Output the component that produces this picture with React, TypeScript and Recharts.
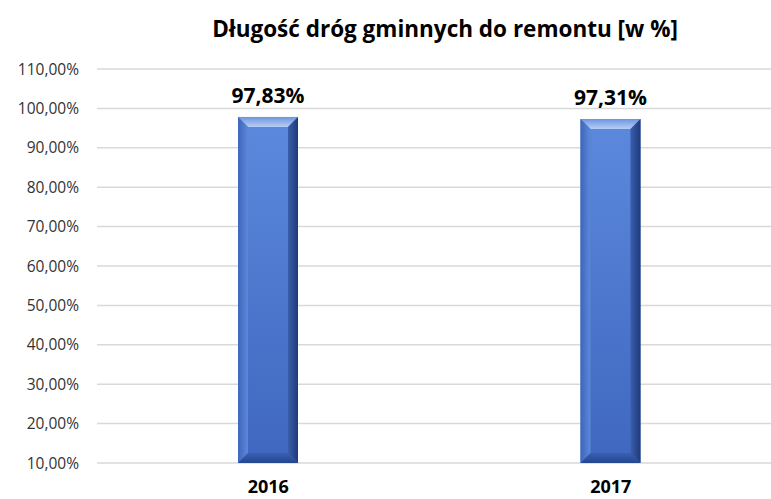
import { BarChart, Bar, XAxis, YAxis, CartesianGrid, LabelList } from "recharts";

const years = ["2016", "2017"];
const shares = [97.83, 97.31];
const yTicks = [10, 20, 30, 40, 50, 60, 70, 80, 90, 100, 110];

const data = years.map((year, i) => ({ year, value: shares[i] }));

const fmt = (v: number) => v.toFixed(2).replace(".", ",") + "%";

const FONT = "'Open Sans', 'Noto Sans', sans-serif";

function BevelBar(props: any) {
  const { x, y, width: w, height: h } = props;
  const b = 10;
  return (
    <g>
      <rect x={x} y={y} width={w} height={h} fill="#4472C4" />
      <rect x={x + b} y={y + b} width={w - 2 * b} height={h - 2 * b} fill="url(#face)" />
      <polygon
        points={`${x},${y} ${x + w},${y} ${x + w - b},${y + b} ${x + b},${y + b}`}
        fill="url(#topBevel)"
      />
      <polygon
        points={`${x},${y} ${x + b},${y + b} ${x + b},${y + h - b} ${x},${y + h}`}
        fill="url(#leftBevel)"
      />
      <polygon
        points={`${x + w},${y} ${x + w},${y + h} ${x + w - b},${y + h - b} ${x + w - b},${y + b}`}
        fill="url(#rightBevel)"
      />
      <polygon
        points={`${x},${y + h} ${x + b},${y + h - b} ${x + w - b},${y + h - b} ${x + w},${y + h}`}
        fill="url(#bottomBevel)"
      />
    </g>
  );
}

export default function App() {
  return (
    <div
      style={{
        position: "absolute",
        left: 0,
        top: 0,
        width: 771,
        height: 499,
        overflow: "hidden",
        background: "#fff",
        fontFamily: FONT,
      }}
    >
      <div
        style={{
          position: "absolute",
          top: 13,
          left: 0,
          width: 890,
          textAlign: "center",
          fontSize: 22.5,
          fontWeight: "bold",
          color: "#000",
        }}
      >
        Długość dróg gminnych do remontu [w %]
      </div>
      <BarChart
        width={790}
        height={499}
        data={data}
        margin={{ top: 69, right: 8, bottom: 6, left: 0 }}
        barSize={60}
      >
        <defs>
          <linearGradient id="face" x1="0" y1="0" x2="0" y2="1">
            <stop offset="0%" stopColor="#5B88DC" />
            <stop offset="100%" stopColor="#4068C0" />
          </linearGradient>
          <linearGradient id="topBevel" x1="0" y1="0" x2="0" y2="1">
            <stop offset="0%" stopColor="#6E95DE" />
            <stop offset="100%" stopColor="#B7CEF5" />
          </linearGradient>
          <linearGradient id="leftBevel" x1="0" y1="0" x2="1" y2="0">
            <stop offset="0%" stopColor="#3E66BC" />
            <stop offset="100%" stopColor="#5D88DA" />
          </linearGradient>
          <linearGradient id="rightBevel" x1="0" y1="0" x2="1" y2="0">
            <stop offset="0%" stopColor="#3A5FAE" />
            <stop offset="100%" stopColor="#1E3A78" />
          </linearGradient>
          <linearGradient id="bottomBevel" x1="0" y1="0" x2="0" y2="1">
            <stop offset="0%" stopColor="#3A5FB2" />
            <stop offset="100%" stopColor="#24468E" />
          </linearGradient>
        </defs>
        <CartesianGrid vertical={false} stroke="#D9D9D9" strokeWidth={1.5} />
        <XAxis
          dataKey="year"
          height={30}
          axisLine={false}
          tickLine={false}
          tickSize={0}
          tickMargin={17}
          tick={{ fill: "#000", fontSize: 18, fontWeight: "bold", fontFamily: FONT }}
        />
        <YAxis
          width={97}
          domain={[10, 110]}
          ticks={yTicks}
          allowDataOverflow
          axisLine={false}
          tickLine={false}
          tickSize={0}
          tickMargin={18}
          tickFormatter={fmt}
          tick={{ fill: "#333", fontSize: 15.5, fontFamily: FONT }}
        />
        <Bar dataKey="value" shape={<BevelBar />} isAnimationActive={false}>
          <LabelList
            dataKey="value"
            position="top"
            offset={14}
            formatter={(v: number) => fmt(v)}
            style={{ fill: "#000", fontSize: 21, fontWeight: "bold", fontFamily: FONT }}
          />
        </Bar>
      </BarChart>
    </div>
  );
}
